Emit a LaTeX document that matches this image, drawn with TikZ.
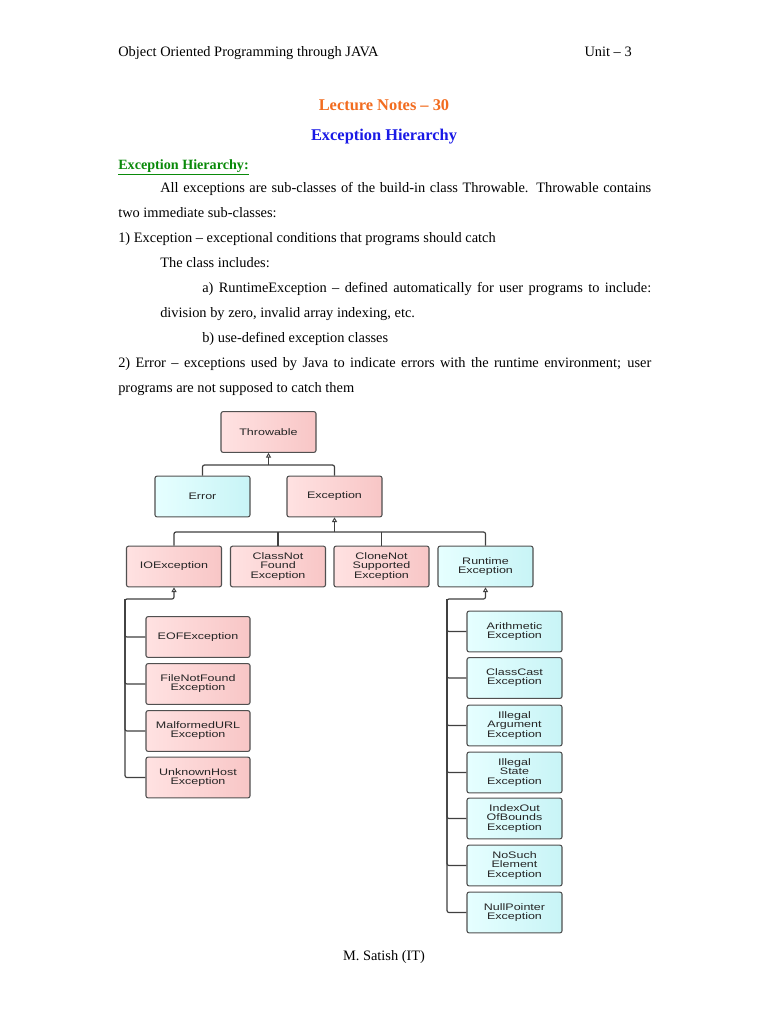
\documentclass[tikz,border=0pt]{standalone}
\usepackage{fontspec}
\setmainfont{Liberation Serif}
\newfontfamily\boxfont[FakeStretch=1.32]{Liberation Sans}
\usetikzlibrary{arrows.meta}
\definecolor{pinkA}{HTML}{FFE2E2}
\definecolor{pinkB}{HTML}{F8C6C6}
\definecolor{cyanA}{HTML}{E6FFFF}
\definecolor{cyanB}{HTML}{C8F4F6}
\definecolor{boxline}{HTML}{505050}
\definecolor{orangeT}{HTML}{F26C1F}
\definecolor{blueT}{HTML}{1A1AE6}
\definecolor{greenT}{HTML}{0A8A0A}
\tikzset{
  body/.style={anchor=base west, inner sep=0pt, font=\fontsize{10.8}{13}\selectfont},
  titlefont/.style={font=\fontsize{12.3}{14}\selectfont\bfseries},
  box/.style={draw=boxline, line width=0.8pt, rounded corners=1.5pt, minimum width=71.25pt,
    minimum height=30.5pt, inner sep=1pt, align=center, text=black!85,
    font=\boxfont\fontsize{7.1}{6.8}\selectfont},
  pinkbox/.style={box, left color=pinkA, right color=pinkB},
  cyanbox/.style={box, left color=cyanA, right color=cyanB},
  wide/.style={minimum width=78pt},
  conn/.style={draw=black!75, line width=0.9pt, rounded corners=1.5pt},
  tipstart/.style={{Triangle[open,length=3.5pt,width=3.8pt,line width=0.7pt]}-}
}
\begin{document}
\begin{tikzpicture}[x=0.75pt,y=-0.75pt]
\fill[white] (0,0) rectangle (768,1024);
\useasboundingbox (0,0) rectangle (768,1024);
% header
\node[body] (hdl) at (118,57) {Object Oriented Programming through JAVA};
\node[body, anchor=base east] (hdr) at (632,57) {Unit -- 3};
\node[body, anchor=base, text=orangeT, titlefont] (lec) at (384,110) {Lecture Notes -- 30};
\node[body, anchor=base, text=blueT, titlefont] (tit) at (384,140) {Exception Hierarchy};
\node[body, text=greenT, font=\fontsize{10.6}{13}\selectfont\bfseries] (sub) at (118,169) {\underline{Exception Hierarchy:}};
% paragraph
\node[body] (l1) at (160,192) {\makebox[368.25pt][s]{All exceptions are sub-classes of the build-in class Throwable. Throwable contains}};
\node[body] (l2) at (118,217) {two immediate sub-classes:};
\node[body] (l3) at (118,242) {1) Exception -- exceptional conditions that programs should catch};
\node[body] (l4) at (160,267) {The class includes:};
\node[body] (l5) at (202,292) {\makebox[336.75pt][s]{a) RuntimeException -- defined automatically for user programs to include:}};
\node[body] (l6) at (160,317) {division by zero, invalid array indexing, etc.};
\node[body] (l7) at (202,342) {b) use-defined exception classes};
\node[body] (l8) at (118,367) {\makebox[399.75pt][s]{2) Error -- exceptions used by Java to indicate errors with the runtime environment; user}};
\node[body] (l9) at (118,392) {programs are not supposed to catch them};
\node[body, anchor=base] (foot) at (384,960) {M. Satish (IT)};
% boxes
\node[pinkbox] (throw) at (268.5,432) {Throwable};
\node[cyanbox] (err) at (202.5,496.5) {Error};
\node[pinkbox] (exc) at (334.5,496.5) {Exception};
\node[pinkbox] (ioe) at (174,566.5) {IOException};
\node[pinkbox] (cnf) at (278,566.5) {ClassNot\\Found\\Exception};
\node[pinkbox] (cns) at (381.5,566.5) {CloneNot\\Supported\\Exception};
\node[cyanbox] (rte) at (485.5,566.5) {Runtime\\Exception};
\node[pinkbox, wide] (eof) at (198,637) {EOFException};
\node[pinkbox, wide] (fnf) at (198,684) {FileNotFound\\Exception};
\node[pinkbox, wide] (mal) at (198,731) {MalformedURL\\Exception};
\node[pinkbox, wide] (uh) at (198,777.5) {UnknownHost\\Exception};
\node[cyanbox] (ari) at (514.5,631.5) {Arithmetic\\Exception};
\node[cyanbox] (cc) at (514.5,678) {ClassCast\\Exception};
\node[cyanbox] (ia) at (514.5,725.5) {Illegal\\Argument\\Exception};
\node[cyanbox] (ist) at (514.5,772.5) {Illegal\\State\\Exception};
\node[cyanbox] (iob) at (514.5,818.5) {IndexOut\\OfBounds\\Exception};
\node[cyanbox] (nse) at (514.5,865.5) {NoSuch\\Element\\Exception};
\node[cyanbox] (np) at (514.5,912.5) {NullPointer\\Exception};
% bus coordinates
\coordinate (b1) at (268.5,465);
\coordinate (b2) at (334.5,532);
\coordinate (b3) at (125,599);
\coordinate (b4) at (447,599);
% connectors
\draw[conn] (err.north) |- (b1) -| (exc.north);
\draw[conn, tipstart] (throw.south) -- (b1);
\draw[conn] (ioe.north) |- (b2) -| (rte.north);
\draw[conn] (cnf.north) -- (cnf.north |- b2);
\draw[conn] (cns.north) -- (cns.north |- b2);
\draw[conn, tipstart] (exc.south) -- (b2);
\draw[conn, tipstart] (ioe.south) |- (b3) |- (uh.west);
\draw[conn] (b3) |- (eof.west);
\draw[conn] (b3) |- (fnf.west);
\draw[conn] (b3) |- (mal.west);
\draw[conn, tipstart] (rte.south) |- (b4) |- (np.west);
\draw[conn] (b4) |- (ari.west);
\draw[conn] (b4) |- (cc.west);
\draw[conn] (b4) |- (ia.west);
\draw[conn] (b4) |- (ist.west);
\draw[conn] (b4) |- (iob.west);
\draw[conn] (b4) |- (nse.west);
\end{tikzpicture}
\end{document}
